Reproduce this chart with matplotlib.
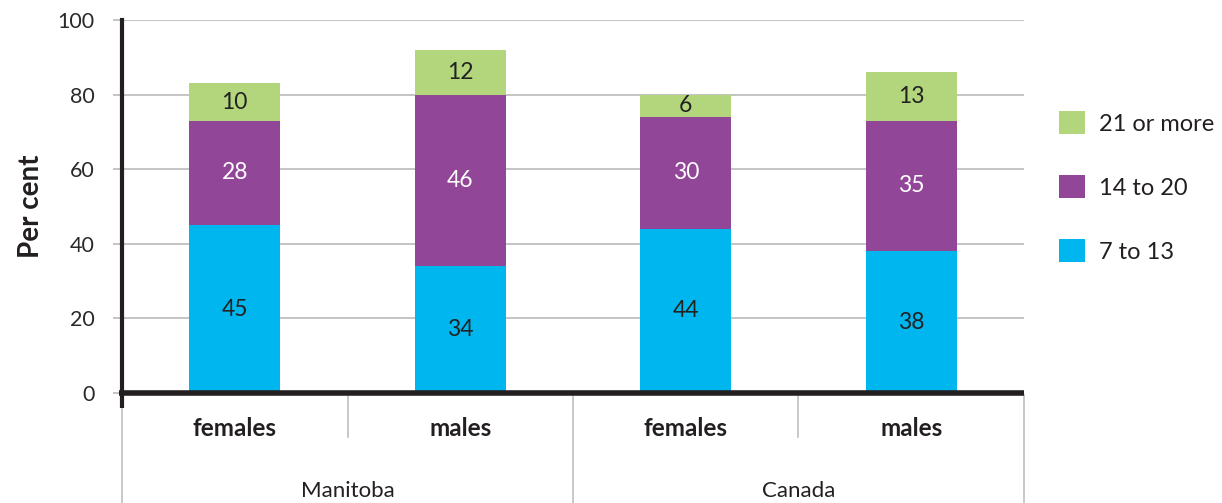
import numpy as np
import matplotlib
matplotlib.use('Agg')
import matplotlib.pyplot as plt

plt.rcParams['font.family'] = ['Lato', 'DejaVu Sans']

# stacked shares (per cent) by group
groups = ['Manitoba', 'Canada']
sexes = ['females', 'males', 'females', 'males']
band_7_13 = [45, 34, 44, 38]
band_14_20 = [28, 46, 30, 35]
band_21_plus = [10, 12, 6, 13]
series_names = ['7 to 13', '14 to 20', '21 or more']

colors = ['#00B6EE', '#924698', '#B3D67D']
text_colors = ['#222222', 'white', '#222222']

fig = plt.figure(figsize=(12.22, 5.03), dpi=100)
ax = fig.add_axes([122/1222, 1-393/503, (1024-122)/1222, 373/503])

x = np.arange(len(sexes)) + 0.5
bottom = np.zeros(len(sexes))
handles = []
for vals, c, tc, name in zip([band_7_13, band_14_20, band_21_plus], colors, text_colors, series_names):
    vals = np.array(vals, dtype=float)
    bars = ax.bar(x, vals, width=0.405, bottom=bottom, color=c, label=name, zorder=3)
    handles.append(bars)
    for xi, b, v in zip(x, bottom, vals):
        ax.text(xi, b + v/2, f'{int(v)}', ha='center', va='center', fontsize=16.5,
                color=tc, zorder=4)
    bottom += vals

ax.set_xlim(0, 4)
ax.set_ylim(0, 100)
ax.set_yticks(np.arange(0, 101, 20))
ax.set_yticklabels([str(v) for v in range(0, 101, 20)], fontsize=15.5, color='#2A2A2A')
ax.tick_params(axis='y', length=6.5, width=1.3, color='#BFBFBF', pad=13)
ax.set_xticks([])
ax.grid(axis='y', color='#BFBFBF', linewidth=1.3, zorder=0)
for s in ['top', 'right', 'bottom']:
    ax.spines[s].set_visible(False)
ax.spines['left'].set_linewidth(3)
ax.spines['left'].set_color('#231F20')
ax.spines['left'].set_zorder(5)

# thick baseline at zero, running a little past the left axis
ax.plot([-0.013, 4], [0, 0], color='#231F20', linewidth=4, clip_on=False,
        solid_capstyle='butt', zorder=6)
# y axis continues a little below zero
ax.plot([0, 0], [0, -0.04], transform=ax.get_xaxis_transform(), color='#231F20',
        linewidth=3, clip_on=False, solid_capstyle='butt', zorder=6)

ax.set_ylabel('Per cent', fontsize=20, fontweight='bold', color='#231F20')
ax.yaxis.set_label_coords(-0.087, 0.5)

# two-level category axis below the plot
trans = ax.get_xaxis_transform()
for xv, yend in zip([0, 1, 2, 3, 4], [-0.32, -0.118, -0.32, -0.118, -0.32]):
    ax.plot([xv, xv], [-0.005, yend], transform=trans, color='#BFBFBF',
            linewidth=1.2, clip_on=False, zorder=1)
for xi, s in zip(x, sexes):
    ax.text(xi, -0.094, s, transform=trans, ha='center', va='center',
            fontsize=17.5, fontweight='bold', color='#231F20')
for gi, g in enumerate(groups):
    ax.text(1 + 2*gi, -0.263, g, transform=trans, ha='center', va='center',
            fontsize=16, color='#231F20')

ax.legend(handles[::-1], series_names[::-1], loc='center left',
          bbox_to_anchor=(1059/1222, 1-187/503), bbox_transform=fig.transFigure,
          frameon=False, fontsize=17, handlelength=1.1, handleheight=1.1,
          handletextpad=0.6, labelspacing=1.72, borderpad=0, borderaxespad=0,
          labelcolor='#231F20')

fig.savefig('out.png', dpi=100)
